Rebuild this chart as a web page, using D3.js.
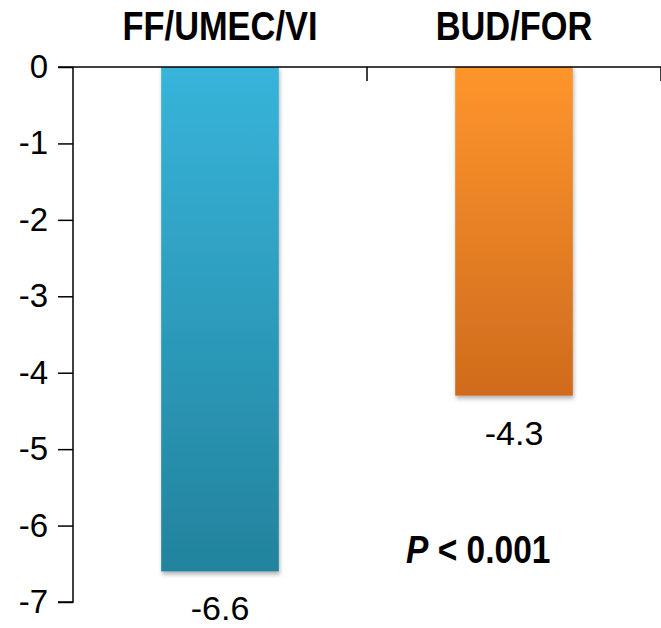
<!DOCTYPE html>
<html>
<head>
<meta charset="utf-8">
<script src="https://cdn.jsdelivr.net/npm/d3@7"></script>
<style>
  html, body { margin: 0; padding: 0; background: #fff; }
  svg { display: block; }
  text { font-family: "Liberation Sans", Arial, sans-serif; fill: #000; }
</style>
</head>
<body>
<svg id="chart" width="661" height="628"></svg>
<script>
// Treatment arms and their mean change
const categories = ["FF/UMEC/VI", "BUD/FOR"];
const values = [-6.6, -4.3];
const valueLabels = ["-6.6", "-4.3"];
const yTicks = [0, -1, -2, -3, -4, -5, -6, -7];
const gradientStops = [["#37b4da", "#23839d"], ["#fe952c", "#cf6b1d"]];

const svg = d3.select("#chart");
const W = 661, H = 628;
const plotLeft = 73, plotRight = 661, plotTop = 67, plotBottom = 602;
const condense = 0.86; // horizontal squeeze for the bold captions

const x = d3.scaleBand().domain(categories).range([plotLeft, plotRight]).paddingInner(0.6).paddingOuter(0.3);
const y = d3.scaleLinear().domain([0, -7]).range([plotTop, plotBottom]);

const defs = svg.append("defs");
categories.forEach((c, i) => {
  const g = defs.append("linearGradient").attr("id", "grad" + i)
    .attr("x1", 0).attr("y1", 0).attr("x2", 0).attr("y2", 1);
  g.append("stop").attr("offset", "0%").attr("stop-color", gradientStops[i][0]);
  g.append("stop").attr("offset", "100%").attr("stop-color", gradientStops[i][1]);
});
const f = defs.append("filter").attr("id", "shadow")
  .attr("x", "-10%").attr("y", "-5%").attr("width", "125%").attr("height", "115%");
f.append("feDropShadow").attr("dx", 1).attr("dy", 3).attr("stdDeviation", 2)
  .attr("flood-color", "#000").attr("flood-opacity", 0.3);

// Bars
svg.append("g").selectAll("rect").data(categories).join("rect")
  .attr("x", d => x(d))
  .attr("width", x.bandwidth())
  .attr("y", y(0))
  .attr("height", (d, i) => y(values[i]) - y(0))
  .attr("fill", (d, i) => `url(#grad${i})`)
  .attr("filter", "url(#shadow)");

// Y axis
const yAxis = svg.append("g").attr("transform", `translate(${plotLeft},0)`)
  .call(d3.axisLeft(y).tickValues(yTicks).tickFormat(d => String(d)).tickSize(15).tickPadding(10));
yAxis.select(".domain").attr("stroke", "#000").attr("stroke-width", 1.5).attr("d", `M0,${plotTop}V${plotBottom}H-15`);
yAxis.selectAll(".tick line").attr("stroke", "#000").attr("stroke-width", 1.5);
yAxis.selectAll(".tick text").attr("font-size", 33).attr("fill", "#000")
  .style("font-family", '"Liberation Sans", Arial, sans-serif');

// Zero line along the top with category divider ticks
const zero = svg.append("g");
zero.append("line").attr("x1", plotLeft - 15).attr("x2", W).attr("y1", y(0)).attr("y2", y(0))
  .attr("stroke", "#000").attr("stroke-width", 1.5);
const step = x.step();
const bandStart = x(categories[0]) - x.paddingOuter() * step;
const dividers = [bandStart + step, bandStart + 2 * step];
zero.selectAll(".div").data(dividers).join("line")
  .attr("x1", d => d).attr("x2", d => d)
  .attr("y1", y(0)).attr("y2", y(0) + 14)
  .attr("stroke", "#000").attr("stroke-width", 1.5);

// Category labels on top
svg.append("g").selectAll("text").data(categories).join("text")
  .attr("transform", d => `translate(${x(d) + x.bandwidth() / 2},40) scale(${condense},1)`)
  .attr("text-anchor", "middle")
  .attr("font-size", 40)
  .attr("font-weight", "bold")
  .text(d => d);

// Value labels under bars
svg.append("g").selectAll("text").data(categories).join("text")
  .attr("x", d => x(d) + x.bandwidth() / 2)
  .attr("y", (d, i) => y(values[i]) + 49)
  .attr("text-anchor", "middle")
  .attr("font-size", 34)
  .text((d, i) => valueLabels[i]);

// Significance annotation
const p = svg.append("text")
  .attr("transform", `translate(406,563) scale(${condense},1)`)
  .attr("font-size", 39).attr("font-weight", "bold");
p.append("tspan").attr("font-style", "italic").text("P");
p.append("tspan").text(" < 0.001");
</script>
</body>
</html>
